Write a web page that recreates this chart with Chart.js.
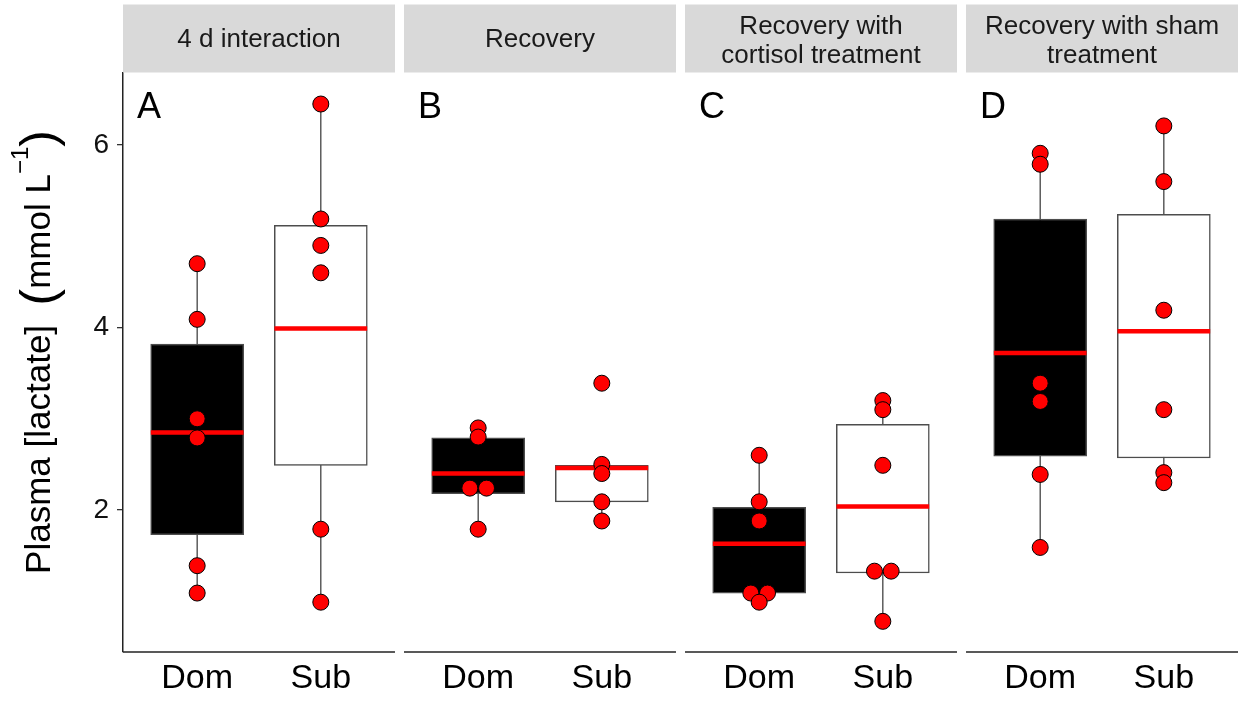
<!DOCTYPE html>
<html>
<head>
<meta charset="utf-8">
<script src="https://cdn.jsdelivr.net/npm/chart.js@4.4.1/dist/chart.umd.min.js"></script>
<style>
  body { margin: 0; background: #fff; }
  #wrap { width: 1238px; height: 702px; }
</style>
</head>
<body>
<div id="wrap"><canvas id="lactate" width="1238" height="702"></canvas></div>
<script>
// facet strips and panel letters
let panelTitles = [["4 d interaction"], ["Recovery"], ["Recovery with", "cortisol treatment"], ["Recovery with sham", "treatment"]];
let panelLetters = ["A", "B", "C", "D"];
let groups = ["Dom", "Sub"];
let yTicks = [2, 4, 6];

// raw points, one list per panel
let domPoints = [
    [4.70, 4.09, 3.00, 2.79, 1.39, 1.09],
    [2.90, 2.80, 2.24, 2.24, 1.79],
    [2.60, 2.09, 1.88, 1.09, 1.09, 0.99],
    [5.91, 5.79, 3.39, 3.19, 2.39, 1.59]
];
let subPoints = [
    [6.45, 5.19, 4.90, 4.60, 1.79, 0.99],
    [3.39, 2.50, 2.40, 2.09, 1.88],
    [3.20, 3.10, 2.49, 1.33, 1.33, 0.78],
    [6.21, 5.60, 4.19, 3.10, 2.41, 2.30]
];

// box statistics
let domLow    = [1.09, 1.79, 0.99, 1.59];
let domQ1     = [1.73, 2.18, 1.09, 2.59];
let domMedian = [2.85, 2.40, 1.63, 3.72];
let domQ3     = [3.82, 2.79, 2.03, 5.19];
let domHigh   = [4.70, 2.90, 2.60, 5.91];

let subLow    = [0.99, 1.88, 0.78, 2.30];
let subQ1     = [2.49, 2.09, 1.31, 2.57];
let subMedian = [3.99, 2.46, 2.04, 3.96];
let subQ3     = [5.12, 2.49, 2.94, 5.24];
let subHigh   = [6.45, 2.50, 3.20, 6.21];

// layout in x units: each facet is 2.2 wide (groups at 0.6 and 1.6)
const panelSpan = 2.2;
const panelGap = 0.073;
const boxHalf = 0.375;
const dodge = 0.135;
const FONT = "'Liberation Sans', Arial, sans-serif";

function panelStart(i) { return i * (panelSpan + panelGap); }
function groupX(i, g) { return panelStart(i) + 0.6 + g; }

let boxStats = [
    {low: domLow, q1: domQ1, med: domMedian, q3: domQ3, high: domHigh, pts: domPoints},
    {low: subLow, q1: subQ1, med: subMedian, q3: subQ3, high: subHigh, pts: subPoints}
];

let boxData = [], whiskerData = [], medianData = [], pointData = [], tickValues = [];
for (let i = 0; i < panelTitles.length; i++) {
    boxStats.forEach((s, g) => {
        let cx = groupX(i, g);
        tickValues.push(cx);
        boxData.push({x: cx, y: [s.q1[i], s.q3[i]], group: groups[g]});
        whiskerData.push({x: cx, y: s.low[i]}, {x: cx, y: s.high[i]}, {x: cx, y: null});
        medianData.push({x: cx - boxHalf, y: s.med[i]}, {x: cx + boxHalf, y: s.med[i]}, {x: cx, y: null});
        // tied values sit side by side
        let vals = s.pts[i];
        vals.forEach((v, k) => {
            let n = vals.filter(w => w === v).length;
            let pos = vals.slice(0, k).filter(w => w === v).length;
            pointData.push({x: cx + (pos - (n - 1) / 2) * dodge, y: v});
        });
    });
}

const facetPlugin = {
    id: "facets",
    afterDraw(chart) {
        const {ctx, chartArea, scales: {x}} = chart;
        ctx.save();
        panelTitles.forEach((lines, i) => {
            let left = x.getPixelForValue(panelStart(i));
            let right = x.getPixelForValue(panelStart(i) + panelSpan);
            ctx.fillStyle = "#d9d9d9";
            ctx.fillRect(left, 4.5, right - left, 68);
            ctx.fillStyle = "#1a1a1a";
            ctx.font = "26px " + FONT;
            ctx.textAlign = "center";
            ctx.textBaseline = "middle";
            let mid = (left + right) / 2;
            if (lines.length === 1) {
                ctx.fillText(lines[0], mid, 40);
            } else {
                ctx.fillText(lines[0], mid, 27);
                ctx.fillText(lines[1], mid, 56);
            }
            ctx.strokeStyle = "#222";
            ctx.lineWidth = 1.5;
            ctx.beginPath();
            ctx.moveTo(left, chartArea.bottom);
            ctx.lineTo(right, chartArea.bottom);
            ctx.stroke();
            ctx.fillStyle = "#000";
            ctx.font = "36px " + FONT;
            ctx.textAlign = "left";
            ctx.textBaseline = "alphabetic";
            ctx.fillText(panelLetters[i], left + 14, 118);
        });

        // y title with big brackets and superscript
        let parts = [
            {t: "Plasma [lactate]  ", size: 35, dy: 12},
            {t: "(", size: 50, dy: 17},
            {t: "mmol L", size: 35, dy: 12},
            {t: "\u22121", size: 24, dy: -10},
            {t: ")", size: 50, dy: 17}
        ];
        let total = 0;
        parts.forEach(p => { ctx.font = p.size + "px " + FONT; p.w = ctx.measureText(p.t).width; total += p.w; });
        ctx.translate(38, 352);
        ctx.rotate(-Math.PI / 2);
        ctx.fillStyle = "#000";
        ctx.textAlign = "left";
        ctx.textBaseline = "alphabetic";
        let pos = -total / 2;
        parts.forEach(p => {
            ctx.font = p.size + "px " + FONT;
            ctx.fillText(p.t, pos, p.dy);
            pos += p.w;
        });
        ctx.restore();
    }
};

new Chart("lactate", {
    type: "scatter",
    data: {
        datasets: [
            {
                type: "line",
                data: whiskerData,
                borderColor: "#444",
                borderWidth: 1.3,
                pointRadius: 0,
                spanGaps: false,
                order: 4
            },
            {
                type: "bar",
                data: boxData,
                backgroundColor: c => (c.raw && c.raw.group === "Dom") ? "#000" : "#fff",
                borderColor: "#4d4d4d",
                borderWidth: 1.5,
                borderSkipped: false,
                barThickness: 93,
                order: 3
            },
            {
                type: "line",
                data: medianData,
                borderColor: "#ff0000",
                borderWidth: 4.5,
                borderCapStyle: "butt",
                pointRadius: 0,
                spanGaps: false,
                order: 2
            },
            {
                type: "scatter",
                data: pointData,
                backgroundColor: "#ff0000",
                borderColor: "#000",
                borderWidth: 1,
                pointRadius: 8,
                order: 1
            }
        ]
    },
    options: {
        responsive: false,
        animation: false,
        events: [],
        layout: {autoPadding: false, padding: {top: 73, left: 0, right: 0, bottom: 0}},
        plugins: {
            legend: {display: false},
            tooltip: {enabled: false}
        },
        scales: {
            x: {
                type: "linear",
                min: 0,
                max: panelStart(panelTitles.length - 1) + panelSpan,
                offset: false,
                grid: {display: false, drawTicks: false},
                border: {display: false},
                afterBuildTicks: s => { s.ticks = tickValues.map(v => ({value: v})); },
                afterFit: s => { s.height = 50; s.paddingLeft = 0; s.paddingRight = 0; },
                ticks: {
                    autoSkip: false,
                    maxRotation: 0,
                    padding: 6,
                    color: "#000",
                    font: {family: FONT, size: 34},
                    callback: (v, i) => groups[i % 2]
                }
            },
            y: {
                type: "linear",
                min: 0.444,
                max: 6.79,
                afterBuildTicks: s => { s.ticks = yTicks.map(v => ({value: v})); },
                afterFit: s => { s.width = 123; },
                grid: {display: true, drawOnChartArea: false, drawTicks: true, tickLength: 6, color: "#333", lineWidth: 1.3},
                border: {display: true, color: "#222", width: 1.5},
                ticks: {
                    padding: 8,
                    color: "#111",
                    font: {family: FONT, size: 28}
                }
            }
        }
    },
    plugins: [facetPlugin]
});
</script>
</body>
</html>
